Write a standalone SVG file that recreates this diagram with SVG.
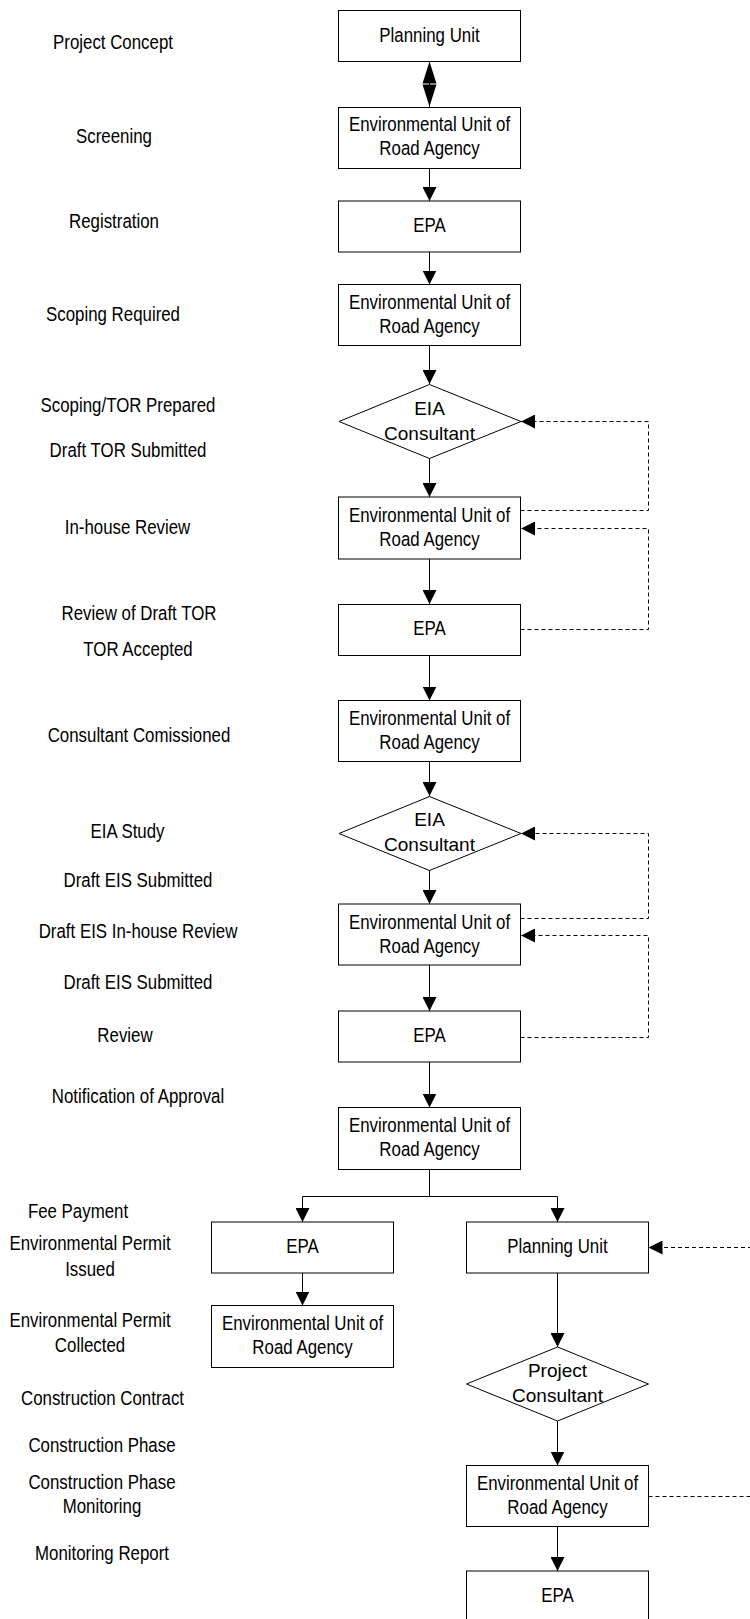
<svg xmlns="http://www.w3.org/2000/svg" width="750" height="1619" viewBox="0 0 750 1619">
  <style>
    .box { fill: #fff; stroke: #000; stroke-width: 1; }
    .lbl { font-family: "Liberation Sans", Arial, sans-serif; font-size: 19.5px; fill: #000; text-anchor: middle; }
    .dia { font-family: "Liberation Sans", Arial, sans-serif; font-size: 19px; fill: #000; text-anchor: middle; }
    .flow { fill: none; stroke: #000; stroke-width: 1; }
    .back { fill: none; stroke: #000; stroke-width: 1; stroke-dasharray: 4 3; }
  </style>
  <defs>
    <marker id="arrow" markerUnits="userSpaceOnUse" markerWidth="14" markerHeight="14" viewBox="0 0 13 13" refX="13" refY="6.5" orient="auto">
      <path d="M0,0 L13,6.5 L0,13 Z" fill="#000"/>
    </marker>
  </defs>
  <rect width="750" height="1619" fill="#fff"/>

  <!-- stage labels (left column) -->
  <g id="stage-labels" class="lbl">
    <text transform="translate(113,49) scale(0.865,1)">Project Concept</text>
    <text transform="translate(114,143) scale(0.865,1)">Screening</text>
    <text transform="translate(114,228) scale(0.865,1)">Registration</text>
    <text transform="translate(113,321) scale(0.865,1)">Scoping Required</text>
    <text transform="translate(128,412) scale(0.865,1)">Scoping/TOR Prepared</text>
    <text transform="translate(128,457) scale(0.865,1)">Draft TOR Submitted</text>
    <text transform="translate(127.5,534) scale(0.865,1)">In-house Review</text>
    <text transform="translate(139,620) scale(0.865,1)">Review of Draft TOR</text>
    <text transform="translate(138,656) scale(0.865,1)">TOR Accepted</text>
    <text transform="translate(139,742) scale(0.865,1)">Consultant Comissioned</text>
    <text transform="translate(127.5,838) scale(0.865,1)">EIA Study</text>
    <text transform="translate(138,887) scale(0.865,1)">Draft EIS Submitted</text>
    <text transform="translate(138,938) scale(0.865,1)">Draft EIS In-house Review</text>
    <text transform="translate(138,989) scale(0.865,1)">Draft EIS Submitted</text>
    <text transform="translate(125,1042) scale(0.865,1)">Review</text>
    <text transform="translate(138,1103) scale(0.865,1)">Notification of Approval</text>
    <text transform="translate(78,1218) scale(0.865,1)">Fee Payment</text>
    <text transform="translate(90,1250) scale(0.865,1)">Environmental Permit</text>
    <text transform="translate(90,1276) scale(0.865,1)">Issued</text>
    <text transform="translate(90,1327) scale(0.865,1)">Environmental Permit</text>
    <text transform="translate(90,1352) scale(0.865,1)">Collected</text>
    <text transform="translate(102.5,1405) scale(0.865,1)">Construction Contract</text>
    <text transform="translate(102,1452) scale(0.865,1)">Construction Phase</text>
    <text transform="translate(102,1489) scale(0.865,1)">Construction Phase</text>
    <text transform="translate(102,1513) scale(0.865,1)">Monitoring</text>
    <text transform="translate(102,1560) scale(0.865,1)">Monitoring Report</text>
  </g>

  <!-- connectors -->
  <g id="connectors">
    <!-- two-way link between Planning Unit and Environmental Unit -->
    <line class="flow" x1="429.5" y1="61" x2="429.5" y2="107"/>
    <polygon points="429.5,61.5 422.5,83.5 436.5,83.5" fill="#000"/>
    <polygon points="422.5,84.5 436.5,84.5 429.5,106.5" fill="#000"/>

    <path class="flow" marker-end="url(#arrow)" d="M429.5,168 V201"/>
    <path class="flow" marker-end="url(#arrow)" d="M429.5,252 V284.5"/>
    <path class="flow" marker-end="url(#arrow)" d="M429.5,345 V384"/>
    <path class="flow" marker-end="url(#arrow)" d="M429.5,458 V497"/>
    <path class="flow" marker-end="url(#arrow)" d="M429.5,559 V604"/>
    <path class="flow" marker-end="url(#arrow)" d="M429.5,655 V700.5"/>
    <path class="flow" marker-end="url(#arrow)" d="M429.5,761 V796"/>
    <path class="flow" marker-end="url(#arrow)" d="M429.5,870 V904"/>
    <path class="flow" marker-end="url(#arrow)" d="M429.5,965 V1011"/>
    <path class="flow" marker-end="url(#arrow)" d="M429.5,1062 V1107.5"/>
    <path class="flow" marker-end="url(#arrow)" d="M429.5,1169 V1196.5 H302.5 V1222"/>
    <path class="flow" marker-end="url(#arrow)" d="M429.5,1196.5 H557.5 V1222"/>
    <path class="flow" marker-end="url(#arrow)" d="M302.5,1273 V1305.5"/>
    <path class="flow" marker-end="url(#arrow)" d="M557.5,1273 V1347"/>
    <path class="flow" marker-end="url(#arrow)" d="M557.5,1421 V1465.5"/>
    <path class="flow" marker-end="url(#arrow)" d="M557.5,1527 V1571"/>

    <!-- review feedback loops -->
    <path class="back" marker-end="url(#arrow)" d="M520.5,510.5 H648.5 V421.5 H521"/>
    <path class="back" marker-end="url(#arrow)" d="M520.5,629.5 H648.5 V528.5 H521"/>
    <path class="back" marker-end="url(#arrow)" d="M520.5,918.5 H648.5 V833.5 H521"/>
    <path class="back" marker-end="url(#arrow)" d="M520.5,1037.5 H648.5 V935.5 H521"/>
    <path class="back" marker-end="url(#arrow)" d="M752,1247.5 H648.5"/>
    <path class="back" d="M648.5,1496.5 H752"/>
  </g>

  <!-- main column -->
  <g id="planning-unit">
    <rect class="box" x="338.5" y="10.5" width="182" height="51"/>
    <text class="lbl" transform="translate(429.5,41.5) scale(0.865,1)">Planning Unit</text>
  </g>
  <g id="env-unit-screening">
    <rect class="box" x="338.5" y="107.5" width="182" height="61"/>
    <text class="lbl" transform="translate(429.5,130.5) scale(0.865,1)">Environmental Unit of</text>
    <text class="lbl" transform="translate(429.5,155) scale(0.865,1)">Road Agency</text>
  </g>
  <g id="epa-registration">
    <rect class="box" x="338.5" y="201" width="182" height="51"/>
    <text class="lbl" transform="translate(429.5,231.5) scale(0.865,1)">EPA</text>
  </g>
  <g id="env-unit-scoping">
    <rect class="box" x="338.5" y="284.5" width="182" height="61"/>
    <text class="lbl" transform="translate(429.5,308.5) scale(0.865,1)">Environmental Unit of</text>
    <text class="lbl" transform="translate(429.5,333) scale(0.865,1)">Road Agency</text>
  </g>
  <g id="eia-consultant-tor">
    <polygon class="box" points="429.5,384.5 521,421.5 429.5,458.5 339,421.5"/>
    <text class="dia" x="429.5" y="415">EIA</text>
    <text class="dia" x="429.5" y="440">Consultant</text>
  </g>
  <g id="env-unit-tor-review">
    <rect class="box" x="338.5" y="497" width="182" height="62"/>
    <text class="lbl" transform="translate(429.5,521.5) scale(0.865,1)">Environmental Unit of</text>
    <text class="lbl" transform="translate(429.5,545.5) scale(0.865,1)">Road Agency</text>
  </g>
  <g id="epa-tor-review">
    <rect class="box" x="338.5" y="604.5" width="182" height="51"/>
    <text class="lbl" transform="translate(429.5,635) scale(0.865,1)">EPA</text>
  </g>
  <g id="env-unit-commission">
    <rect class="box" x="338.5" y="700.5" width="182" height="61"/>
    <text class="lbl" transform="translate(429.5,724.5) scale(0.865,1)">Environmental Unit of</text>
    <text class="lbl" transform="translate(429.5,749) scale(0.865,1)">Road Agency</text>
  </g>
  <g id="eia-consultant-study">
    <polygon class="box" points="429.5,796.5 521,833.5 429.5,870.5 339,833.5"/>
    <text class="dia" x="429.5" y="826">EIA</text>
    <text class="dia" x="429.5" y="851">Consultant</text>
  </g>
  <g id="env-unit-eis-review">
    <rect class="box" x="338.5" y="904" width="182" height="61"/>
    <text class="lbl" transform="translate(429.5,928.5) scale(0.865,1)">Environmental Unit of</text>
    <text class="lbl" transform="translate(429.5,952.5) scale(0.865,1)">Road Agency</text>
  </g>
  <g id="epa-eis-review">
    <rect class="box" x="338.5" y="1011" width="182" height="51"/>
    <text class="lbl" transform="translate(429.5,1041.5) scale(0.865,1)">EPA</text>
  </g>
  <g id="env-unit-approval">
    <rect class="box" x="338.5" y="1107.5" width="182" height="62"/>
    <text class="lbl" transform="translate(429.5,1132) scale(0.865,1)">Environmental Unit of</text>
    <text class="lbl" transform="translate(429.5,1156) scale(0.865,1)">Road Agency</text>
  </g>

  <!-- permit branch -->
  <g id="epa-permit">
    <rect class="box" x="211.5" y="1222" width="182" height="51"/>
    <text class="lbl" transform="translate(302.5,1253) scale(0.865,1)">EPA</text>
  </g>
  <g id="env-unit-permit">
    <rect class="box" x="211.5" y="1305.5" width="182" height="62"/>
    <text class="lbl" transform="translate(302.5,1330) scale(0.865,1)">Environmental Unit of</text>
    <text class="lbl" transform="translate(302.5,1354) scale(0.865,1)">Road Agency</text>
  </g>

  <!-- construction branch -->
  <g id="planning-unit-construction">
    <rect class="box" x="466.5" y="1222" width="182" height="51"/>
    <text class="lbl" transform="translate(557.5,1253) scale(0.865,1)">Planning Unit</text>
  </g>
  <g id="project-consultant">
    <polygon class="box" points="557.5,1347 648.5,1384 557.5,1421 466.5,1384"/>
    <text class="dia" x="557.5" y="1377">Project</text>
    <text class="dia" x="557.5" y="1402">Consultant</text>
  </g>
  <g id="env-unit-monitoring">
    <rect class="box" x="466.5" y="1465.5" width="182" height="61"/>
    <text class="lbl" transform="translate(557.5,1489.5) scale(0.865,1)">Environmental Unit of</text>
    <text class="lbl" transform="translate(557.5,1514) scale(0.865,1)">Road Agency</text>
  </g>
  <g id="epa-monitoring">
    <rect class="box" x="466.5" y="1571" width="182" height="51"/>
    <text class="lbl" transform="translate(557.5,1602) scale(0.865,1)">EPA</text>
  </g>
</svg>
